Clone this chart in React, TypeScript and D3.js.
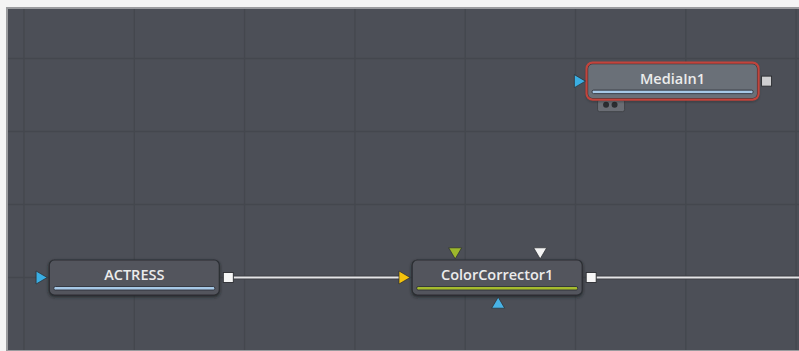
import React from "react";
import * as d3 from "d3";

// Flow-space data (grid units)
const gridCols = [0, 1, 2, 3, 4, 5, 6, 7];
const gridRows = [0, 1, 2, 3];
const nodeNames = ["MediaIn1", "ACTRESS", "ColorCorrector1"];
const nodeX = [5.88, 1.0, 4.29];
const nodeY = [0.31, 3.0, 3.0];
const nodeSelected = [true, false, false];
const nodeBar = ["blue", "blue", "green"];
const links = [
  { from: "ACTRESS", to: "ColorCorrector1" },
  { from: "ColorCorrector1", to: null },
];

const W = 799;
const H = 351;
const x = d3.scaleLinear().domain([0, 1]).range([24, 134.3]);
const y = d3.scaleLinear().domain([0, 1]).range([58.5, 131.5]);

const NW = 170;
const NH = 35;

const barColor: Record<string, string> = { blue: "#a6c8e6", green: "#a5bb2e" };

function tri(cx: number, cy: number, dir: "r" | "d" | "u", s = 6.5) {
  if (dir === "r") return `M${cx - s * 0.8},${cy - s}L${cx + s * 0.9},${cy}L${cx - s * 0.8},${cy + s}Z`;
  if (dir === "d") return `M${cx - s},${cy - s * 0.8}L${cx + s},${cy - s * 0.8}L${cx},${cy + s * 0.9}Z`;
  return `M${cx - s},${cy + s * 0.8}L${cx + s},${cy + s * 0.8}L${cx},${cy - s * 0.9}Z`;
}

export default function App() {
  const nodes = nodeNames.map((name, i) => ({
    name,
    cx: x(nodeX[i]),
    cy: y(nodeY[i]),
    selected: nodeSelected[i],
    bar: nodeBar[i],
  }));
  const byName = Object.fromEntries(nodes.map((n) => [n.name, n]));

  return (
    <svg width={W} height={H} style={{ position: "absolute", left: 0, top: 0 }}>
      <defs>
        <filter id="sh" x="-10%" y="-30%" width="120%" height="170%">
          <feDropShadow dx="0" dy="1.5" stdDeviation="1.5" floodColor="#1e2024" floodOpacity="0.8" />
        </filter>
      </defs>
      <rect width={W} height={H} fill="#f4f4f4" />
      <rect x={6} y={7} width={W - 6} height={344} fill="#9a9b9e" />
      <rect x={8} y={9} width={W - 8} height={341} fill="#4c4f57" />
      {gridCols.map((c) => (
        <line key={"c" + c} x1={x(c)} x2={x(c)} y1={9} y2={350} stroke="#44474e" strokeWidth={1.3} />
      ))}
      {gridRows.map((r) => (
        <line key={"r" + r} x1={8} x2={W} y1={y(r)} y2={y(r)} stroke="#44474e" strokeWidth={1.3} />
      ))}

      {links.map((l, i) => {
        const a = byName[l.from];
        const b = l.to ? byName[l.to] : null;
        const x1 = a.cx + NW / 2 + 14;
        const x2 = b ? b.cx - NW / 2 - 12 : W;
        return (
          <g key={i}>
            <line x1={x1} x2={x2} y1={a.cy} y2={a.cy} stroke="#3c3e44" strokeWidth={4} />
            <line x1={x1} x2={x2} y1={a.cy} y2={a.cy} stroke="#e4e4e6" strokeWidth={1.8} />
          </g>
        );
      })}

      {nodes.map((n) => {
        const left = n.cx - NW / 2;
        const top = n.cy - NH / 2;
        const isCC = n.name === "ColorCorrector1";
        return (
          <g key={n.name}>
            {n.selected && (
              <rect x={left + 10} y={top + NH + 1} width={27} height={12} rx={2} fill="#6a6d74" stroke="#3a3c41" strokeWidth={0.8} />
            )}
            {n.selected && (
              <>
                <circle cx={left + 18.5} cy={top + NH + 6} r={3} fill="#2b2d31" />
                <circle cx={left + 27} cy={top + NH + 6} r={3} fill="#2b2d31" />
              </>
            )}
            <rect
              x={left}
              y={top}
              width={NW}
              height={NH}
              rx={5}
              fill={n.selected ? "#6b6f78" : "#52555d"}
              stroke="#2c2e33"
              strokeWidth={1.2}
              filter="url(#sh)"
            />
            {n.selected && (
              <rect x={left - 1} y={top - 1} width={NW + 2} height={NH + 2} rx={6} fill="none" stroke="#c2443c" strokeWidth={2.2} />
            )}
            <rect x={left + 4.5} y={top + 26.5} width={NW - 9} height={3.5} rx={1.5} fill={barColor[n.bar]} stroke="#2c3038" strokeWidth={0.9} />
            <text
              x={n.cx}
              y={top + 20}
              textAnchor="middle"
              fontFamily="'Open Sans', 'Noto Sans', sans-serif"
              fontWeight={600}
              fontSize={14.5}
              fill="#ececec"
            >
              {n.name}
            </text>
            {/* main input */}
            <path d={tri(left - 8, n.cy, "r")} fill={isCC ? "#f4c20d" : "#3aaee3"} stroke="#2a2c30" strokeWidth={0.7} />
            {/* output */}
            <rect
              x={left + NW + 4}
              y={n.cy - 5}
              width={10}
              height={10}
              fill={n.selected ? "#cfcfd1" : "#f6f6f6"}
              stroke="#2a2c30"
              strokeWidth={0.9}
            />
            {isCC && (
              <>
                <path d={tri(left + 43, top - 7, "d")} fill="#9db82c" stroke="#2a2c30" strokeWidth={0.7} />
                <path d={tri(left + 128, top - 7, "d")} fill="#f4f4f4" stroke="#2a2c30" strokeWidth={0.7} />
                <path d={tri(left + 86, top + NH + 8, "u")} fill="#48b3e6" stroke="#2a2c30" strokeWidth={0.7} />
              </>
            )}
          </g>
        );
      })}
    </svg>
  );
}
